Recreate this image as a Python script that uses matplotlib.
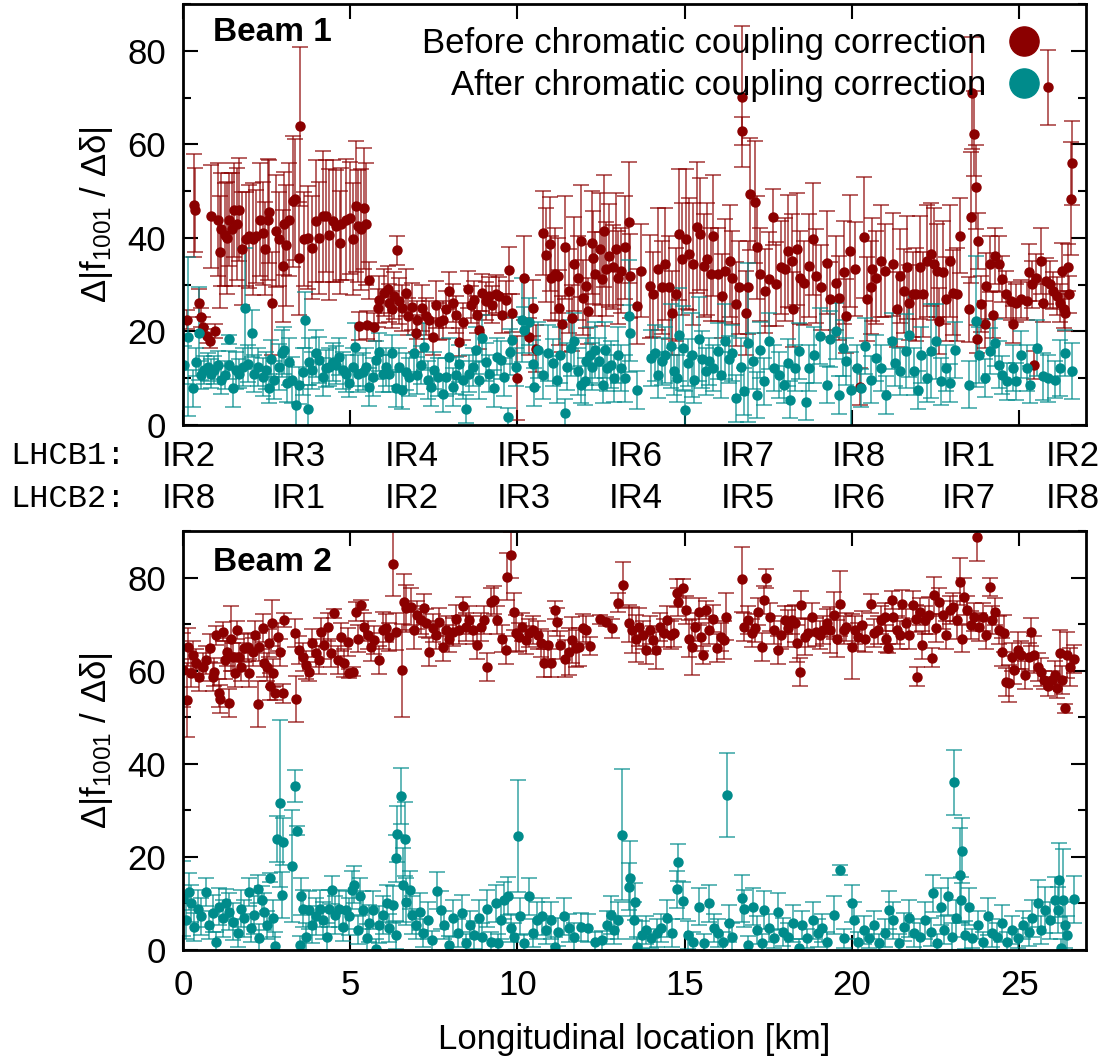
import matplotlib
matplotlib.use('Agg')
import matplotlib.pyplot as plt
from matplotlib.lines import Line2D
from matplotlib.ticker import MultipleLocator
import matplotlib.transforms as mtransforms

plt.rcParams['font.family'] = ['Liberation Sans', 'DejaVu Sans']
plt.rcParams['mathtext.fontset'] = 'custom'
plt.rcParams['mathtext.rm'] = 'Liberation Sans'
plt.rcParams['mathtext.it'] = 'Liberation Sans:italic'
plt.rcParams['mathtext.bf'] = 'Liberation Sans:bold'

# ---------------- Beam 1, before correction ----------------
b1_before_x = [
    0.12, 0.34, 0.37, 0.47, 0.54, 0.61, 0.71, 0.81, 0.97,
    0.84, 1.04, 1.12, 1.14, 1.24, 1.30, 1.38, 1.46, 1.53, 1.60,
    1.68, 1.76, 1.88, 1.98, 2.08, 2.18, 2.30, 2.38, 2.46, 2.53,
    2.58, 2.66, 2.78, 2.88, 2.98, 3.03, 3.08, 3.18, 3.28, 3.36,
    3.48, 3.51, 3.63, 3.75, 3.87, 3.97, 4.07, 4.17, 4.27, 4.37,
    4.47, 4.57, 4.69, 4.72, 4.87, 4.99, 5.09, 5.17, 5.22, 5.32,
    5.40, 5.47,
    5.27, 5.50, 5.57, 5.72, 5.82, 5.87, 6.02, 6.12, 6.17, 6.26,
    6.31, 6.41, 6.46, 6.56, 6.66, 6.74, 6.86, 6.96, 7.01, 7.16,
    7.26, 7.36, 7.46, 7.56, 7.66, 7.76, 7.86, 7.96, 8.06, 8.16,
    8.26, 8.36, 8.51, 8.61, 8.71, 8.80, 8.85, 8.95, 9.05, 9.15,
    9.25, 9.35, 9.45, 9.55, 9.65, 9.75, 9.85, 10.0, 10.2, 10.35,
    10.45, 10.55, 10.75, 10.85,
    10.96, 11.01, 11.12, 11.22, 11.25, 11.33, 11.43, 11.54, 11.64, 11.69,
    11.80, 11.90, 11.96, 12.06, 12.11, 12.22, 12.27, 12.32, 12.48, 12.53,
    12.59, 12.64, 12.74, 12.85, 12.95, 13.01, 13.11, 13.22, 13.32, 13.37,
    13.58, 13.69, 13.95, 14.06, 14.21, 14.32, 14.42, 14.53, 14.63, 14.74,
    14.82, 14.93, 15.05, 15.14, 15.26, 15.37, 15.47, 15.58, 15.68, 15.79,
    15.84, 16.00, 16.13, 16.21, 16.36, 16.42, 16.52, 16.63, 16.71, 16.72,
    16.84, 16.89, 16.96, 17.10, 17.15, 17.26, 17.41, 17.52, 17.64, 17.73,
    17.89, 17.99, 18.10, 18.20, 18.25, 18.36, 18.46, 18.57, 18.73, 18.83,
    18.93, 19.09, 19.25, 19.35, 19.51, 19.62, 19.77, 19.83, 19.93, 20.09,
    20.25, 20.35, 20.44, 20.56, 20.61, 20.72, 20.88, 20.98, 21.24, 21.35,
    21.45, 21.56, 21.66, 21.72, 21.82, 21.93, 22.03, 22.14, 22.24, 22.35,
    22.45, 22.55, 22.61, 22.71, 22.82, 22.92, 23.03, 23.13, 23.24, 23.50,
    23.55, 23.60, 23.66, 23.71, 23.74, 23.76, 23.87, 23.97, 24.02, 24.13,
    24.23, 24.29, 24.39, 24.50, 24.60, 24.76, 24.81, 24.92, 25.07, 25.23,
    25.28, 25.39, 25.44, 25.49, 25.65, 25.70, 25.81, 25.86, 25.91, 26.02,
    26.12, 26.23, 26.28, 26.33, 26.38, 26.47, 26.49, 26.54, 26.57,
]
b1_before_y = [
    22.5, 47.0, 46.0, 26.0, 23.0, 21.0, 19.0, 18.0, 20.0,
    44.6, 43.9, 37.0, 41.8, 40.7, 40.0, 43.9, 41.8, 46.0, 43.0,
    46.0, 37.7, 39.7, 40.3, 39.7, 40.3, 43.9, 41.0, 37.7, 43.9,
    45.6, 26.0, 41.4, 39.7, 34.0, 43.0, 38.4, 43.9, 47.8, 48.2,
    35.6, 63.9, 39.7, 40.0, 37.9, 43.6, 40.0, 44.6, 44.6, 40.7,
    43.6, 42.5, 39.0, 43.0, 43.9, 44.2, 39.7, 46.8, 42.5, 41.8,
    46.3, 43.0,
    21.1, 21.4, 30.9, 21.0, 25.0, 26.8, 28.3, 29.0, 26.1, 24.7,
    27.6, 37.3, 26.5, 25.0, 28.3, 23.2, 25.3, 19.6, 22.4, 25.0,
    23.2, 22.4, 18.9, 25.7, 22.1, 22.4, 24.7, 28.7, 26.1, 23.6,
    17.8, 22.1, 29.0, 25.7, 26.8, 23.6, 20.3, 28.3, 26.5, 27.6,
    25.7, 28.0, 27.6, 23.6, 26.8, 33.1, 23.9, 10.0, 31.4, 18.9,
    25.0, 16.3, 41.0, 36.3,
    38.7, 31.5, 32.2, 31.9, 25.1, 21.5, 38.0, 28.7, 22.9, 34.4,
    31.5, 39.4, 27.2, 29.7, 24.4, 39.0, 35.8, 32.2, 37.6, 31.2,
    41.5, 33.3, 36.2, 33.7, 37.6, 31.5, 33.0, 38.0, 43.3, 31.9,
    25.4, 33.0, 29.7, 27.9, 33.3, 29.4, 34.4, 29.4, 24.0, 27.9,
    40.8, 35.5, 39.8, 36.5, 34.4, 42.3, 40.8, 34.0, 35.5, 32.2,
    40.5, 32.2, 27.6, 33.0, 35.1, 31.5, 25.8, 29.4, 70.2, 62.8,
    24.0, 29.4, 49.4, 47.6, 38.0, 32.2, 28.7, 31.2, 44.4, 30.1,
    33.7, 33.3, 37.2, 35.1, 24.7, 37.6, 31.5, 30.4, 34.0, 39.8,
    31.9, 29.4, 34.7, 26.9, 30.4, 27.2, 32.6, 23.3, 37.2, 33.3,
    8.2, 40.1, 26.9, 29.4, 33.3, 31.5, 35.1, 33.0, 34.4, 24.7,
    31.9, 28.7, 33.7, 26.1, 27.9, 27.9, 33.7, 27.9, 35.1, 36.5,
    34.4, 33.0, 22.2, 32.6, 26.9, 35.1, 28.3, 27.9, 40.5, 24.7,
    44.4, 70.9, 62.3, 50.9, 18.3, 39.4, 25.8, 21.5, 29.7, 34.4,
    23.6, 36.2, 34.4, 31.2, 27.9, 26.5, 21.5, 26.1, 26.9, 26.5,
    32.6, 30.1, 12.9, 31.5, 35.1, 26.1, 30.8, 72.2, 30.1, 28.7,
    27.6, 26.1, 33.0, 24.7, 24.0, 33.7, 27.9, 48.4, 56.0,
]
b1_before_err = [
    2.0, 11.0, 9.0, 3.0, 2.0, 2.0, 1.5, 1.5, 1.5,
    11, 12, 12, 12, 11, 12, 10, 12, 10, 12,
    11, 12, 10, 11, 12, 10, 12, 11, 10, 13,
    11, 11, 12, 10, 12, 11, 13, 12, 14, 13,
    12, 17, 10, 11, 11, 13, 12, 14, 12, 14,
    13, 12, 11, 12, 13, 12, 12, 14, 12, 13,
    13, 13,
    3, 3, 4, 3, 4, 5, 5, 5, 4, 4,
    5, 3, 5, 5, 5, 4, 5, 4, 4, 5,
    4, 4, 4, 5, 4, 4, 4, 4, 4, 4,
    3, 4, 4, 4, 4, 4, 4, 4, 4, 4,
    4, 4, 4, 4, 4, 5, 4, 9, 9, 4,
    6, 5, 9, 10,
    10, 9, 10, 8, 8, 6, 11, 9, 7, 10,
    9, 12, 8, 9, 7, 11, 10, 9, 12, 10,
    12, 10, 11, 9, 12, 10, 9, 11, 13, 9,
    8, 10, 11, 9, 13, 10, 12, 11, 9, 10,
    14, 12, 15, 12, 13, 14, 12, 11, 12, 10,
    13, 10, 9, 11, 12, 10, 9, 10, 15, 3,
    9, 10, 12, 13, 11, 10, 9, 10, 6, 9,
    10, 11, 12, 10, 8, 12, 10, 9, 11, 12,
    10, 9, 11, 8, 10, 9, 11, 8, 12, 10,
    4, 13, 9, 10, 11, 10, 12, 10, 11, 8,
    10, 9, 11, 8, 9, 10, 11, 9, 12, 11,
    12, 10, 7, 11, 9, 12, 9, 10, 8, 7,
    14, 12, 9, 9, 3, 6, 6, 5, 7, 6,
    5, 6, 6, 5, 5, 4, 4, 4, 4, 4,
    6, 5, 3, 5, 7, 4, 5, 8, 5, 4,
    4, 4, 6, 4, 4, 5, 4, 12, 9,
]

# ---------------- Beam 1, after correction ----------------
b1_after_x = [
    0.04, 0.14, 0.29, 0.39, 0.47, 0.54, 0.64, 0.74, 0.84, 0.94,
    1.04, 1.14, 1.24, 1.36, 1.38, 1.48, 1.58, 1.68, 1.78, 1.86,
    1.93, 2.06, 2.13, 2.23, 2.38, 2.48, 2.56, 2.63, 2.73, 2.88,
    2.96, 3.03, 3.10, 3.18, 3.26, 3.38, 3.48, 3.58, 3.66, 3.73,
    3.77, 3.87, 3.97, 4.07, 4.17, 4.27, 4.37, 4.47, 4.57, 4.67,
    4.77, 4.87, 4.97, 5.07, 5.15, 5.22, 5.37, 5.47, 5.57, 5.67,
    5.77, 5.87, 5.97, 6.07, 6.17, 6.26, 6.36, 6.46, 6.56, 6.66,
    6.76, 6.91, 7.01, 7.11, 7.21, 7.31, 7.41, 7.51, 7.61, 7.76,
    7.86, 7.94, 8.06, 8.16, 8.26, 8.36, 8.46, 8.56, 8.66, 8.76,
    8.85, 8.95, 9.05, 9.15, 9.30, 9.40, 9.50, 9.60, 9.73, 9.77,
    9.85, 9.95, 10.13, 10.20, 10.35, 10.45, 10.50, 10.60, 10.75, 10.90,
    11.07, 11.17, 11.27, 11.43, 11.48, 11.61, 11.69, 11.80, 11.90, 12.01,
    12.06, 12.17, 12.22, 12.32, 12.43, 12.55, 12.62, 12.69, 12.80, 12.90,
    13.01, 13.11, 13.22, 13.32, 13.35, 13.58, 14.00, 14.11, 14.21, 14.32,
    14.42, 14.58, 14.69, 14.76, 14.84, 14.95, 15.00, 15.10, 15.21, 15.28,
    15.42, 15.52, 15.63, 15.73, 15.84, 16.00, 16.10, 16.21, 16.31, 16.42,
    16.52, 16.68, 16.78, 16.89, 17.05, 17.15, 17.26, 17.38, 17.52, 17.68,
    17.83, 17.97, 18.10, 18.15, 18.31, 18.43, 18.62, 18.73, 18.88, 19.04,
    19.25, 19.35, 19.51, 19.62, 19.72, 19.83, 19.98, 20.14, 20.28, 20.40,
    20.56, 20.72, 20.88, 21.03, 21.19, 21.30, 21.45, 21.61, 21.72, 21.87,
    21.98, 22.08, 22.24, 22.35, 22.50, 22.66, 22.82, 22.92, 23.08, 23.50,
    23.71, 23.81, 23.97, 24.13, 24.27, 24.39, 24.50, 24.65, 24.81, 24.92,
    25.07, 25.23, 25.33, 25.54, 25.70, 25.86, 26.07, 26.23, 26.38, 26.59,
]
b1_after_y = [
    12.8, 18.9, 7.8, 13.5, 19.6, 10.6, 11.7, 12.4, 11.0, 11.7,
    12.8, 9.6, 10.6, 18.3, 12.8, 7.8, 11.7, 11.0, 12.4, 24.9,
    13.1, 19.6, 11.0, 12.4, 10.3, 11.7, 7.8, 14.2, 9.6, 12.4,
    15.3, 16.0, 8.9, 13.5, 9.6, 4.2, 8.5, 11.4, 22.4, 3.5,
    13.5, 11.7, 15.3, 13.9, 10.3, 12.1, 12.4, 13.5, 12.8, 14.6,
    11.7, 11.0, 8.9, 12.4, 16.7, 11.0, 11.4, 12.4, 8.1, 10.3,
    13.9, 15.6, 11.0, 12.4, 11.0, 15.3, 7.8, 12.4, 7.4, 11.4,
    10.3, 15.3, 10.6, 12.8, 16.7, 9.6, 8.1, 11.7, 10.3, 6.7,
    10.3, 14.6, 8.1, 10.6, 13.1, 9.6, 3.5, 11.0, 12.4, 16.0,
    9.6, 18.5, 13.5, 11.0, 7.8, 14.6, 13.9, 10.3, 1.7, 15.6,
    18.1, 12.4, 22.4, 20.3, 22.1, 13.1, 8.1, 16.0, 10.6, 15.3,
    13.3, 9.7, 15.0, 2.5, 12.5, 16.5, 17.9, 11.5, 8.6, 9.3,
    13.6, 15.0, 12.5, 16.1, 13.6, 8.6, 16.1, 12.2, 12.9, 10.0,
    15.0, 12.2, 10.0, 23.3, 19.7, 7.5, 14.3, 15.4, 10.7, 13.6,
    15.0, 16.8, 11.5, 10.0, 19.3, 16.5, 3.2, 13.3, 15.0, 9.7,
    18.3, 14.0, 11.5, 13.6, 12.2, 15.8, 10.7, 17.9, 14.0, 15.4,
    5.7, 12.5, 7.2, 17.6, 13.6, 6.4, 16.1, 9.3, 17.9, 12.2,
    10.7, 8.6, 13.3, 5.4, 12.2, 15.8, 5.0, 12.2, 15.0, 19.0,
    8.6, 18.3, 20.1, 6.4, 16.5, 13.6, 7.5, 12.2, 7.9, 16.8,
    9.7, 14.3, 12.2, 6.4, 17.9, 13.3, 11.5, 15.8, 19.3, 11.5,
    7.5, 15.0, 10.0, 15.8, 17.9, 9.3, 12.2, 9.0, 16.1, 8.6,
    22.2, 15.0, 10.0, 15.8, 17.6, 12.9, 10.7, 9.3, 12.2, 9.3,
    15.0, 12.2, 8.6, 16.5, 10.4, 10.0, 9.7, 12.2, 15.4, 11.5,
]
b1_after_err = [
    4, 17, 4, 3, 10, 3, 3, 3, 3, 3,
    3, 3, 3, 1, 3, 4, 4, 3, 4, 13,
    4, 5, 4, 4, 4, 4, 3, 4, 4, 5,
    5, 5, 4, 5, 5, 5, 4, 5, 6, 5,
    5, 4, 5, 5, 4, 4, 4, 4, 4, 4,
    4, 4, 3, 4, 5, 4, 4, 4, 4, 4,
    4, 4, 4, 4, 4, 4, 4, 4, 4, 4,
    4, 4, 4, 4, 5, 4, 4, 4, 4, 4,
    4, 4, 4, 4, 4, 4, 3, 4, 4, 5,
    4, 5, 4, 4, 4, 4, 4, 4, 2, 5,
    5, 4, 9, 5, 5, 5, 4, 6, 5, 6,
    5, 5, 6, 3, 5, 6, 6, 5, 4, 5,
    5, 6, 5, 6, 5, 4, 6, 5, 5, 5,
    6, 5, 5, 12, 6, 4, 6, 6, 5, 5,
    6, 9, 5, 5, 10, 9, 4, 5, 9, 5,
    9, 6, 5, 5, 5, 6, 5, 8, 5, 6,
    5, 6, 5, 17, 6, 5, 6, 5, 6, 5,
    5, 4, 5, 4, 5, 6, 4, 5, 6, 6,
    4, 6, 6, 4, 6, 5, 8, 5, 4, 6,
    5, 5, 5, 4, 6, 5, 5, 8, 9, 5,
    4, 6, 5, 10, 8, 5, 5, 4, 6, 5,
    14, 6, 4, 5, 5, 5, 4, 4, 5, 4,
    5, 5, 4, 6, 5, 5, 4, 6, 5, 6,
]

# ---------------- Beam 2, before correction ----------------
b2_before_x = [
    0.00, 0.11, 0.14, 0.24, 0.29, 0.39, 0.49, 0.59, 0.69, 0.81,
    0.89, 0.94, 0.99, 1.07, 1.11, 1.19, 1.26, 1.30, 1.36, 1.43,
    1.48, 1.56, 1.60, 1.68, 1.73, 1.83, 1.93, 1.98, 2.08, 2.16,
    2.23, 2.28, 2.38, 2.43, 2.50, 2.56, 2.60, 2.66, 2.70, 2.76,
    2.83, 2.90, 2.98, 3.01, 3.36, 3.38, 3.48, 3.58, 3.67, 3.77,
    3.87, 3.97, 4.07, 4.12, 4.22, 4.33, 4.42, 4.52, 4.62, 4.72,
    4.82, 4.92, 4.97, 5.09, 5.17, 5.22, 5.32, 5.42, 5.52, 5.62,
    5.72, 5.87, 5.97, 6.07, 6.17, 6.27, 6.36, 6.56, 6.61, 6.66,
    6.81, 6.91, 7.01, 7.11, 7.21, 7.26, 7.36, 7.46, 7.56, 7.66,
    7.76, 7.86, 7.96, 8.06, 8.16, 8.26, 8.38, 8.46, 8.55, 8.66,
    8.80, 8.90, 9.00, 9.10, 9.20, 9.30, 9.40, 9.53, 9.65, 9.70,
    9.80, 9.90, 9.95, 10.05, 10.15, 10.25, 10.35, 10.45, 10.60, 10.70,
    10.80, 10.90,
    11.01, 11.12, 11.17, 11.27, 11.43, 11.54, 11.64, 11.75, 11.85, 11.96,
    12.06, 12.17, 12.48, 12.64, 12.83, 13.01, 13.16, 13.32, 13.43, 13.53,
    13.64, 13.74, 13.85, 13.95, 14.06, 14.14, 14.27, 14.37, 14.48, 14.58,
    14.69, 14.76, 14.80, 14.95, 15.03, 15.14, 15.21, 15.31, 15.42, 15.49,
    15.56, 15.63, 15.73, 15.84, 15.98, 16.10, 16.19, 16.23, 16.71, 16.78,
    16.89, 17.00, 17.10, 17.20, 17.31, 17.36, 17.44, 17.55, 17.68, 17.78,
    17.89, 18.01, 18.10, 18.20, 18.31, 18.36, 18.45, 18.49, 18.60, 18.70,
    18.81, 18.93, 19.04, 19.14, 19.25, 19.35, 19.46, 19.54, 19.63, 19.75,
    19.83, 20.00, 20.09, 20.19, 20.30, 20.40, 20.56, 20.67, 20.77, 20.88,
    20.98, 21.03, 21.09, 21.19, 21.24, 21.35, 21.45, 21.51, 21.61, 21.72,
    21.82, 21.92, 21.95, 22.03, 22.10, 22.19, 22.29, 22.38, 22.45, 22.52,
    22.61, 22.71, 22.82, 22.92, 23.03, 23.13, 23.24, 23.29, 23.34, 23.45,
    23.55, 23.66, 23.73, 23.81, 23.92, 24.02, 24.13, 24.18, 24.29, 24.39,
    24.48, 24.55, 24.60, 24.71, 24.79, 24.86, 24.97, 25.07, 25.18, 25.28,
    25.34, 25.44, 25.55, 25.65, 25.75, 25.86, 25.97, 26.07, 26.12, 26.21,
    26.28, 26.36, 26.44, 26.51, 26.65,
]
b2_before_y = [
    60.1, 53.7, 65.1, 59.4, 63.3, 61.6, 58.7, 60.8, 62.3, 64.8,
    58.7, 59.8, 67.6, 55.1, 54.0, 68.4, 62.3, 64.1, 53.1, 66.9,
    63.0, 59.4, 68.7, 63.0, 60.8, 64.8, 65.1, 59.4, 64.1, 67.6,
    52.8, 65.1, 69.1, 61.6, 60.8, 65.9, 56.6, 70.2, 59.4, 55.1,
    67.3, 63.9, 55.1, 70.9, 68.0, 53.9, 64.4, 63.0, 61.2, 59.8,
    65.9, 63.7, 62.3, 68.4, 65.5, 69.4, 63.7, 72.3, 62.3, 67.3,
    61.6, 66.2, 59.4, 59.8, 72.7, 66.9, 74.1, 69.4, 67.6, 65.1,
    66.6, 62.3, 68.7, 69.1, 67.3, 83.0, 68.4, 60.1, 74.8, 73.4,
    73.7, 68.7, 71.9, 70.9, 73.4, 70.2, 64.1, 69.1, 67.6, 70.5,
    65.1, 68.7, 66.9, 68.4, 71.2, 68.7, 73.9, 69.4, 70.9, 68.7,
    65.5, 69.4, 70.9, 60.8, 74.8, 75.2, 70.9, 66.9, 64.4, 80.2,
    84.8, 72.7, 68.0, 67.3, 69.4, 66.6, 68.0, 68.7, 67.6, 65.9,
    61.6, 65.5,
    61.6, 73.0, 70.5, 65.5, 62.6, 64.1, 66.6, 64.8, 65.1, 69.1,
    68.7, 65.3, 71.0, 70.5, 69.1, 74.6, 78.4, 70.2, 68.7, 66.9,
    69.4, 67.6, 64.4, 68.7, 66.6, 64.4, 69.4, 68.0, 70.9, 67.6,
    68.0, 76.6, 74.8, 77.7, 73.0, 66.9, 65.1, 69.4, 72.7, 67.3,
    63.4, 73.0, 68.7, 71.2, 64.8, 67.3, 66.6, 71.6, 79.6, 69.4,
    70.9, 68.0, 69.1, 72.7, 65.1, 75.2, 79.8, 71.6, 68.7, 64.4,
    67.6, 70.9, 69.1, 70.9, 70.2, 65.9, 59.8, 74.1, 67.3, 68.0,
    71.6, 68.4, 67.6, 68.7, 70.2, 68.7, 71.9, 66.9, 74.4, 68.7,
    69.4, 65.1, 68.7, 67.3, 69.8, 66.9, 74.4, 68.0, 68.7, 70.9,
    71.6, 66.9, 64.8, 75.2, 71.6, 68.7, 67.6, 74.4, 70.2, 67.6,
    74.1, 71.2, 58.7, 72.7, 65.5, 70.9, 71.9, 62.8, 76.2, 69.1,
    74.8, 71.9, 67.6, 73.0, 73.7, 70.9, 79.1, 66.9, 75.9, 73.0,
    69.8, 71.6, 88.6, 69.4, 71.6, 67.6, 78.0, 70.9, 72.7, 68.7,
    64.1, 68.0, 57.6, 57.3, 63.0, 60.1, 64.4, 63.4, 59.1, 63.0,
    68.4, 63.4, 60.8, 59.8, 58.0, 56.6, 58.0, 59.1, 56.2, 63.7,
    58.0, 51.9, 63.4, 60.8, 62.6,
]
b2_before_err = [
    8, 8, 4, 3, 3, 3, 3, 3, 3, 3,
    3, 3, 2, 3, 3, 2, 4, 3, 3, 7,
    3, 3, 2, 3, 3, 3, 3, 3, 3, 3,
    5, 3, 3, 3, 3, 3, 3, 5, 3, 1.5,
    3, 3, 2, 1.5, 3, 5, 3, 3, 3, 2,
    3, 3, 3, 3, 3, 3, 3, 1, 3, 3,
    3, 3, 1, 1, 2, 3, 1, 3, 3, 3,
    3, 3, 4, 3, 3, 7, 4, 10, 6, 5,
    4, 4, 3, 3, 3, 3, 3, 3, 3, 3,
    3, 3, 3, 3, 3, 3, 2, 3, 3, 3,
    3, 3, 3, 3, 3, 3, 3, 3, 3, 5,
    5, 4, 4, 3, 3, 3, 3, 3, 3, 3,
    3, 3,
    3, 2, 3, 3, 4, 5, 5, 4, 4, 3,
    3, 2, 1, 1, 2, 2, 5, 4, 5, 5,
    4, 3, 3, 3, 3, 4, 3, 3, 3, 3,
    3, 3, 3, 2, 3, 4, 6, 3, 3, 3,
    2, 2, 3, 3, 3, 3, 4, 5, 7, 3,
    3, 3, 3, 3, 3, 3, 2, 3, 3, 3,
    3, 3, 4, 3, 4, 4, 3, 3, 4, 3,
    3, 3, 3, 3, 3, 5, 5, 4, 7, 3,
    3, 7, 3, 3, 3, 3, 2, 3, 3, 3,
    3, 3, 1, 2, 3, 3, 3, 3, 3, 3,
    3, 3, 2, 3, 3, 3, 4, 2, 4, 3,
    3, 3, 3, 3, 3, 4, 5, 3, 4, 3,
    3, 3, 5, 3, 3, 3, 2, 3, 3, 3,
    3, 4, 3, 4, 3, 3, 4, 3, 3, 3,
    3, 4, 3, 3, 2, 2, 2, 3, 2, 5,
    3, 1, 5, 4, 3,
]

# ---------------- Beam 2, after correction ----------------
b2_after_x = [
    0.00, 0.09, 0.17, 0.24, 0.34, 0.44, 0.54, 0.69, 0.79, 0.89,
    0.99, 1.09, 1.20, 1.28, 1.38, 1.48, 1.63, 1.73, 1.83, 1.96,
    2.03, 2.13, 2.23, 2.28, 2.36, 2.43, 2.50, 2.60, 2.68, 2.76,
    2.80, 2.90, 2.96, 2.98, 3.26, 3.36, 3.40, 3.49, 3.52, 3.59,
    3.68, 3.77, 3.87, 3.97, 4.09, 4.17, 4.29, 4.37, 4.45, 4.55,
    4.65, 4.77, 4.87, 4.95, 5.05, 5.12, 5.22, 5.29, 5.39, 5.49,
    5.57, 5.69, 5.77, 5.87, 5.99, 6.09, 6.17, 6.29, 6.36, 6.38,
    6.40, 6.51, 6.58, 6.64, 6.68, 6.78, 6.86, 6.96, 7.08, 7.18,
    7.31, 7.44, 7.58, 7.71, 7.81, 7.96, 8.08, 8.21, 8.34, 8.46,
    8.58, 8.71, 8.85, 8.95, 9.10, 9.20, 9.35, 9.43, 9.50, 9.60,
    9.73, 9.80, 9.90, 10.03, 10.07, 10.20, 10.35, 10.45, 10.57, 10.73,
    10.85, 11.01, 11.12, 11.22, 11.38, 11.54, 11.69, 11.90, 12.11, 12.32,
    12.53, 12.69, 12.80, 12.90, 13.01, 13.14, 13.32, 13.35, 13.48, 13.51,
    13.58, 13.71, 13.85, 14.00, 14.16, 14.30, 14.48, 14.63, 14.76, 14.79,
    14.95, 15.10, 15.26, 15.42, 15.58, 15.73, 15.89, 16.00, 16.15, 16.26,
    16.31, 16.42, 16.71, 16.78, 16.89, 17.03, 17.15, 17.31, 17.38, 17.52,
    17.68, 17.80, 17.94, 18.10, 18.25, 18.41, 18.52, 18.67, 18.83, 18.99,
    19.12, 19.25, 19.46, 19.64, 19.77, 20.00, 20.07, 20.19, 20.35, 20.51,
    20.67, 20.82, 20.98, 21.12, 21.24, 21.42, 21.56, 21.72, 21.87, 22.03,
    22.19, 22.35, 22.42, 22.55, 22.66, 22.76, 22.87, 22.98, 23.05, 23.11,
    23.24, 23.26, 23.29, 23.39, 23.50, 23.60, 23.76, 23.92, 24.08, 24.20,
    24.34, 24.50, 24.65, 24.79, 24.97, 25.13, 25.28, 25.39, 25.55, 25.65,
    25.76, 25.91, 26.07, 26.17, 26.20, 26.26, 26.30, 26.38, 26.44, 26.65,
]
b2_after_y = [
    11.1, 6.4, 12.5, 10.0, 5.0, 8.9, 7.2, 12.5, 5.4, 7.9,
    1.8, 9.3, 6.8, 10.0, 8.2, 6.1, 3.6, 8.9, 6.8, 12.5,
    4.7, 7.5, 13.2, 2.5, 10.7, 8.2, 5.4, 15.5, 6.8, 0.9,
    23.8, 31.5, 11.8, 23.3, 18.1, 35.2, 25.6, 1.1, 11.5, 8.9,
    2.9, 8.6, 5.4, 7.2, 8.9, 6.4, 2.9, 8.9, 12.9, 7.5,
    8.9, 5.0, 8.6, 7.2, 12.9, 14.0, 4.3, 11.5, 8.6, 2.5,
    5.7, 8.6, 0.3, 5.4, 7.5, 10.0, 4.7, 9.7, 19.7, 3.2,
    24.9, 33.1, 14.0, 23.8, 10.4, 12.9, 7.5, 5.4, 8.2, 3.6,
    6.4, 2.1, 12.7, 8.6, 5.4, 1.1, 6.8, 3.6, 7.9, 1.4,
    5.4, 3.2, 6.8, 2.9, 8.9, 1.8, 10.0, 1.4, 6.4, 10.7,
    11.6, 4.7, 2.9, 24.5, 7.2, 1.4, 11.5, 3.6, 6.4, 7.2,
    4.3, 6.4, 0.7, 3.9, 7.2, 4.7, 2.9, 5.0, 4.7, 1.8,
    2.1, 5.4, 7.5, 4.3, 6.4, 24.8, 13.6, 15.4, 6.4, 10.4,
    0.7, 3.2, 4.3, 2.5, 3.6, 4.7, 6.8, 3.6, 13.0, 18.8,
    10.6, 3.2, 1.8, 9.3, 1.4, 10.0, 4.7, 3.6, 1.8, 33.3,
    5.7, 2.9, 11.1, 8.9, 1.1, 9.3, 4.3, 1.4, 8.6, 4.7,
    2.5, 8.2, 3.9, 2.9, 5.7, 0.4, 5.4, 2.5, 6.4, 3.6,
    4.7, 1.8, 7.5, 17.2, 2.5, 10.0, 6.4, 1.8, 4.3, 2.5,
    5.4, 1.4, 3.6, 8.6, 6.4, 1.4, 5.0, 6.8, 3.6, 2.9,
    6.4, 3.9, 12.2, 1.4, 9.3, 4.3, 11.5, 2.9, 36.0, 6.8,
    16.1, 10.7, 21.3, 3.2, 9.3, 2.5, 5.4, 1.8, 7.2, 3.6,
    2.9, 5.7, 1.8, 4.3, 2.5, 5.4, 3.9, 6.8, 10.0, 4.3,
    8.6, 6.4, 10.7, 8.6, 15.0, 0.4, 10.7, 5.4, 3.2, 10.9,
]
b2_after_err = [
    8, 4, 4, 4, 3, 4, 4, 3, 3, 4,
    2, 4, 4, 3, 4, 4, 3, 4, 4, 3,
    3, 4, 3, 3, 3, 4, 3, 1, 4, 3,
    5, 18, 5, 5, 12, 3.5, 1, 2, 4, 4,
    3, 4, 4, 4, 4, 4, 3, 4, 3, 4,
    4, 3, 4, 4, 4, 4, 3, 4, 4, 3,
    4, 4, 2, 4, 4, 4, 3, 4, 5, 3,
    6, 6, 8, 8, 5, 4, 4, 3, 4, 3,
    4, 2, 4, 4, 3, 2, 4, 3, 4, 2,
    3, 3, 4, 3, 4, 2, 4, 2, 4, 4,
    4, 3, 3, 12, 4, 2, 4, 3, 4, 4,
    3, 4, 2, 3, 4, 3, 3, 3, 3, 2,
    2, 3, 4, 3, 4, 14, 5, 8, 4, 4,
    2, 3, 3, 2, 3, 3, 4, 3, 4, 4,
    4, 3, 2, 4, 2, 4, 3, 3, 2, 9,
    4, 3, 5, 4, 2, 4, 3, 2, 4, 3,
    2, 4, 3, 3, 4, 2, 3, 2, 4, 3,
    3, 2, 4, 1, 2, 4, 4, 2, 3, 2,
    3, 2, 3, 4, 4, 2, 3, 4, 3, 3,
    4, 3, 4, 2, 4, 3, 4, 3, 7, 4,
    10, 5, 7, 3, 4, 2, 3, 2, 4, 3,
    3, 4, 2, 3, 2, 3, 3, 4, 5, 3,
    5, 4, 5, 5, 8, 2, 11, 5, 4, 5,
]

# ---------------- labels ----------------
ir_positions = [0.18, 3.47, 6.85, 10.2, 13.55, 16.9, 20.2, 23.5, 26.6]
lhcb1_irs = ['IR2', 'IR3', 'IR4', 'IR5', 'IR6', 'IR7', 'IR8', 'IR1', 'IR2']
lhcb2_irs = ['IR8', 'IR1', 'IR2', 'IR3', 'IR4', 'IR5', 'IR6', 'IR7', 'IR8']
legend_labels = ['Before chromatic coupling correction',
                 'After chromatic coupling correction']

RED = '#8b0000'
TEAL = '#008b8b'
RED_E = (0.545, 0.0, 0.0, 0.72)
TEAL_E = (0.0, 0.545, 0.545, 0.72)
FS = 25

fig = plt.figure(figsize=(11.1, 10.63), dpi=100)
ax1 = fig.add_axes([0.1649, 0.6002, 0.8135, 0.3961])
ax2 = fig.add_axes([0.1649, 0.1063, 0.8135, 0.3942])


def draw(ax, x, y, e, c, ec):
    ax.errorbar(x, y, yerr=e, fmt='o', ms=6.5, mfc=c, mec=c,
                ecolor=ec, elinewidth=1.2, capsize=5.5, capthick=1.2)


draw(ax1, b1_before_x, b1_before_y, b1_before_err, RED, RED_E)
draw(ax1, b1_after_x, b1_after_y, b1_after_err, TEAL, TEAL_E)
draw(ax2, b2_before_x, b2_before_y, b2_before_err, RED, RED_E)
draw(ax2, b2_after_x, b2_after_y, b2_after_err, TEAL, TEAL_E)

for ax in (ax1, ax2):
    ax.set_xlim(0, 27.0)
    ax.set_ylim(0, 90)
    ax.xaxis.set_major_locator(MultipleLocator(5))
    ax.yaxis.set_major_locator(MultipleLocator(20))
    ax.yaxis.set_minor_locator(MultipleLocator(10))
    ax.tick_params(which='both', direction='in', top=True, right=True,
                   width=1.5, labelsize=FS)
    ax.tick_params(which='major', length=11)
    ax.tick_params(which='minor', length=6)
    ax.tick_params(axis='y', pad=12)
    ax.tick_params(axis='x', pad=14)
    for s in ax.spines.values():
        s.set_linewidth(2.0)
    ax.set_ylabel('Δ|f$_{1001}$ / Δδ|', fontsize=FS)
    ax.yaxis.set_label_coords(-0.075, 0.5)

ax1.tick_params(axis='x', labelbottom=False)
ax2.set_xlabel('Longitudinal location [km]', fontsize=FS)
ax2.xaxis.set_label_coords(0.5, -0.175)

ax1.text(0.033, 0.931, 'Beam 1', transform=ax1.transAxes, fontsize=24,
         fontweight='bold', ha='left', va='center')
ax2.text(0.033, 0.925, 'Beam 2', transform=ax2.transAxes, fontsize=24,
         fontweight='bold', ha='left', va='center')

handles = [Line2D([], [], ls='none', marker='o', ms=21, color=RED),
           Line2D([], [], ls='none', marker='o', ms=21, color=TEAL)]
ax1.legend(handles, legend_labels, loc='upper right',
           bbox_to_anchor=(0.951, 0.945), markerfirst=False, frameon=False,
           fontsize=FS, handlelength=1.0, handletextpad=0.6,
           labelspacing=0.25, borderpad=0, borderaxespad=0)

trans = mtransforms.blended_transform_factory(ax1.transData, fig.transFigure)
for xp, t1, t2 in zip(ir_positions, lhcb1_irs, lhcb2_irs):
    fig.text(xp, 0.571, t1, transform=trans, fontsize=FS, ha='center', va='center')
    fig.text(xp, 0.531, t2, transform=trans, fontsize=FS, ha='center', va='center')
fig.text(0.009, 0.571, 'LHCB1:', fontsize=23, family='Liberation Mono',
         ha='left', va='center')
fig.text(0.009, 0.531, 'LHCB2:', fontsize=23, family='Liberation Mono',
         ha='left', va='center')

fig.savefig('out.png', dpi=100)
